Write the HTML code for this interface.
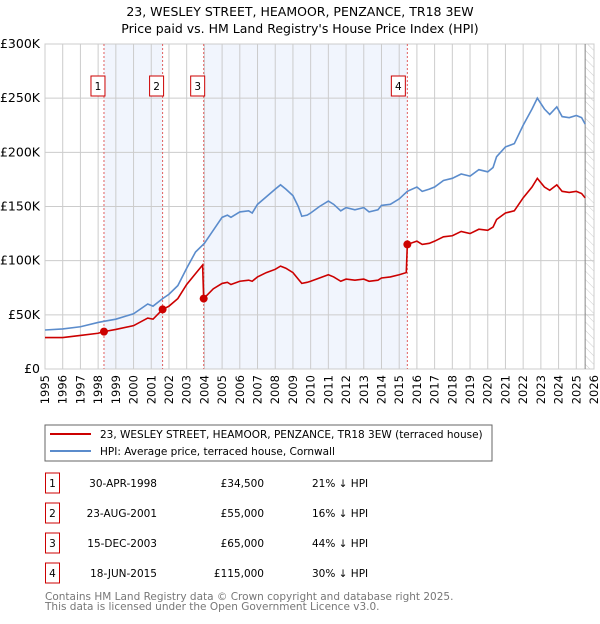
<!DOCTYPE html>
<html><head><meta charset="utf-8"><style>
body{margin:0;background:#fff;font-family:"DejaVu Sans","Liberation Sans",sans-serif;}
svg text{font-family:"DejaVu Sans","Liberation Sans",sans-serif;}
</style></head><body>
<svg id="c" width="600" height="620" xmlns="http://www.w3.org/2000/svg">
<defs><pattern id="hatch" width="6" height="6" patternUnits="userSpaceOnUse" patternTransform="rotate(-45)"><line x1="0" y1="0" x2="0" y2="6" stroke="#ccc" stroke-width="1"/></pattern></defs>
<text x="300" y="16" text-anchor="middle" font-size="12.5">23, WESLEY STREET, HEAMOOR, PENZANCE, TR18 3EW</text>
<text x="300" y="33" text-anchor="middle" font-size="12.5">Price paid vs. HM Land Registry's House Price Index (HPI)</text>
<g id="plot"></g>
<rect x="45" y="425" width="447" height="36" fill="#fff" stroke="#666"/>
<line x1="50" y1="434" x2="91" y2="434" stroke="#cc0000" stroke-width="2"/>
<text x="100" y="438" font-size="10.5">23, WESLEY STREET, HEAMOOR, PENZANCE, TR18 3EW (terraced house)</text>
<line x1="50" y1="451" x2="91" y2="451" stroke="#5b8ccc" stroke-width="2"/>
<text x="100" y="455" font-size="10.5">HPI: Average price, terraced house, Cornwall</text>
<g id="tbl" font-size="10.5"></g>
<text x="45" y="600" font-size="10.5" fill="#777">Contains HM Land Registry data © Crown copyright and database right 2025.</text>
<text x="45" y="610" font-size="10.5" fill="#777">This data is licensed under the Open Government Licence v3.0.</text>
</svg>
<script>
const hpiYears=[1995,1996,1997,1998,1998.33,1999,2000,2000.8,2001.1,2001.64,2002,2002.5,2003,2003.5,2004,2004.5,2005,2005.3,2005.5,2006,2006.5,2006.7,2007,2007.5,2008,2008.3,2008.6,2009,2009.3,2009.5,2009.8,2010,2010.5,2011,2011.3,2011.7,2012,2012.5,2013,2013.3,2013.8,2014,2014.5,2015,2015.46,2016,2016.3,2016.7,2017,2017.5,2018,2018.5,2019,2019.5,2020,2020.3,2020.5,2021,2021.5,2022,2022.5,2022.8,2023.2,2023.5,2023.9,2024.2,2024.6,2025,2025.3,2025.5];
const hpiValues=[36,37,39,43,44,46,51,60,58,65,69,77,93,108,116,128,140,142,140,145,146,144,152,159,166,170,166,160,150,141,142,144,150,155,152,146,149,147,149,145,147,151,152,157,164,168,164,166,168,174,176,180,178,184,182,186,196,205,208,225,240,250,240,235,242,233,232,234,232,226];
const propYears=[1995,1996,1997,1998,1998.33,1999,2000,2000.8,2001.1,2001.64,2002,2002.5,2003,2003.5,2003.9,2003.96,2004.5,2005,2005.3,2005.5,2006,2006.5,2006.7,2007,2007.5,2008,2008.3,2008.6,2009,2009.3,2009.5,2009.8,2010,2010.5,2011,2011.3,2011.7,2012,2012.5,2013,2013.3,2013.8,2014,2014.5,2015,2015.4,2015.46,2016,2016.3,2016.7,2017,2017.5,2018,2018.5,2019,2019.5,2020,2020.3,2020.5,2021,2021.5,2022,2022.5,2022.8,2023.2,2023.5,2023.9,2024.2,2024.6,2025,2025.3,2025.5];
const propValues=[29,29,31,33,34.5,36.5,40,47,46,55,58,65,78,88,96,65,74,79,80,78,81,82,81,85,89,92,95,93,89,83,79,80,81,84,87,85,81,83,82,83,81,82,84,85,87,89,115,118,115,116,118,122,123,127,125,129,128,131,138,144,146,158,168,176,168,165,170,164,163,164,162,158];
const saleYears=[1998.33,2001.64,2003.96,2015.46];
const salePrices=[34.5,55,65,115];
const saleLabels=["1","2","3","4"];
const saleDates=["30-APR-1998","23-AUG-2001","15-DEC-2003","18-JUN-2015"];
const salePriceText=["£34,500","£55,000","£65,000","£115,000"];
const saleHpiText=["21% ↓ HPI","16% ↓ HPI","44% ↓ HPI","30% ↓ HPI"];
const yTicks=[0,50,100,150,200,250,300];
const yTickLabels=["£0","£50K","£100K","£150K","£200K","£250K","£300K"];
const xTicks=[1995,1996,1997,1998,1999,2000,2001,2002,2003,2004,2005,2006,2007,2008,2009,2010,2011,2012,2013,2014,2015,2016,2017,2018,2019,2020,2021,2022,2023,2024,2025,2026];

const NS="http://www.w3.org/2000/svg";
const X0=45,X1=594,Y0=369,Y1=44;
const xs=y=>X0+(y-1995)/(2026-1995)*(X1-X0);
const ys=v=>Y0-v/300*(Y0-Y1);
const plot=document.getElementById('plot');
function mk(t,a,p){const e=document.createElementNS(NS,t);for(const k in a)e.setAttribute(k,a[k]);(p||plot).appendChild(e);return e;}
for(const [a,b] of [[0,1],[2,3]]){
 const r=mk('rect',{x:xs(saleYears[a]),y:Y1,width:xs(saleYears[b])-xs(saleYears[a]),height:Y0-Y1,fill:'#eef3fc',opacity:0.8});
 
 
}
const hz=mk('rect',{x:xs(2025.5),y:Y1,width:X1-xs(2025.5),height:Y0-Y1,fill:'url(#hatch)'});


for(const t of xTicks){
 const l=mk('line',{x1:xs(t),x2:xs(t),y1:Y1,y2:Y0,stroke:'#ccc'});
 
 
 const tx=mk('text',{x:0,y:0,'font-size':'11.5','text-anchor':'end',transform:`translate(${xs(t)+4},${Y0+6}) rotate(-90)`});
 tx.textContent=t;
 
 
}
yTicks.forEach((t,i)=>{
 const l=mk('line',{x1:X0,x2:X1,y1:ys(t),y2:ys(t),stroke:'#ccc'});
 
 
 const tx=mk('text',{x:40,y:ys(t)+4,'font-size':'12.5','text-anchor':'end'});
 tx.textContent=yTickLabels[i];
 
 
});
const border=mk('rect',{x:X0,y:Y1,width:X1-X0,height:Y0-Y1,fill:'none',stroke:'#ccc'});


const nl=mk('line',{x1:xs(2025.5),x2:xs(2025.5),y1:Y1,y2:Y0,stroke:'#888'});


saleYears.forEach((s,i)=>{
 const l=mk('line',{x1:xs(s),x2:xs(s),y1:Y1,y2:Y0,stroke:'#e06060','stroke-dasharray':'2,2','stroke-width':1});
 
 
 const bx=xs(s)-(i==3?3:0);
 const r=mk('rect',{x:bx-13,y:76,width:14,height:20,fill:'#fff',stroke:'#cc0000'});
 
 
 const t=mk('text',{x:bx-6,y:90,'font-size':'10.5','text-anchor':'middle'});
 t.textContent=saleLabels[i];
 
 
});
const hp=mk('polyline',{points:hpiYears.map((y,i)=>xs(y)+','+ys(hpiValues[i])).join(' '),fill:'none',stroke:'#5b8ccc','stroke-width':1.6});


const pp=mk('polyline',{points:propYears.map((y,i)=>xs(y)+','+ys(propValues[i])).join(' '),fill:'none',stroke:'#cc0000','stroke-width':1.6});


saleYears.forEach((s,i)=>{
 const c=mk('circle',{cx:xs(s),cy:ys(salePrices[i]),r:4,fill:'#cc0000'});
 
 
});
const tbl=document.getElementById('tbl');
saleLabels.forEach((lab,i)=>{
 const cy=483+i*30;
 const r=mk('rect',{x:45.5,y:cy-10,width:14,height:20,fill:'#fff',stroke:'#cc0000'},tbl);
 
 
 const t0=mk('text',{x:52.5,y:cy+4,'text-anchor':'middle'},tbl);t0.textContent=lab;
 
 
 const t1=mk('text',{x:157,y:cy+4,'text-anchor':'end'},tbl);t1.textContent=saleDates[i];
 
 
 const t2=mk('text',{x:264,y:cy+4,'text-anchor':'end'},tbl);t2.textContent=salePriceText[i];
 
 
 const t3=mk('text',{x:312,y:cy+4},tbl);t3.textContent=saleHpiText[i];
 
 
});
</script>
</body></html>
